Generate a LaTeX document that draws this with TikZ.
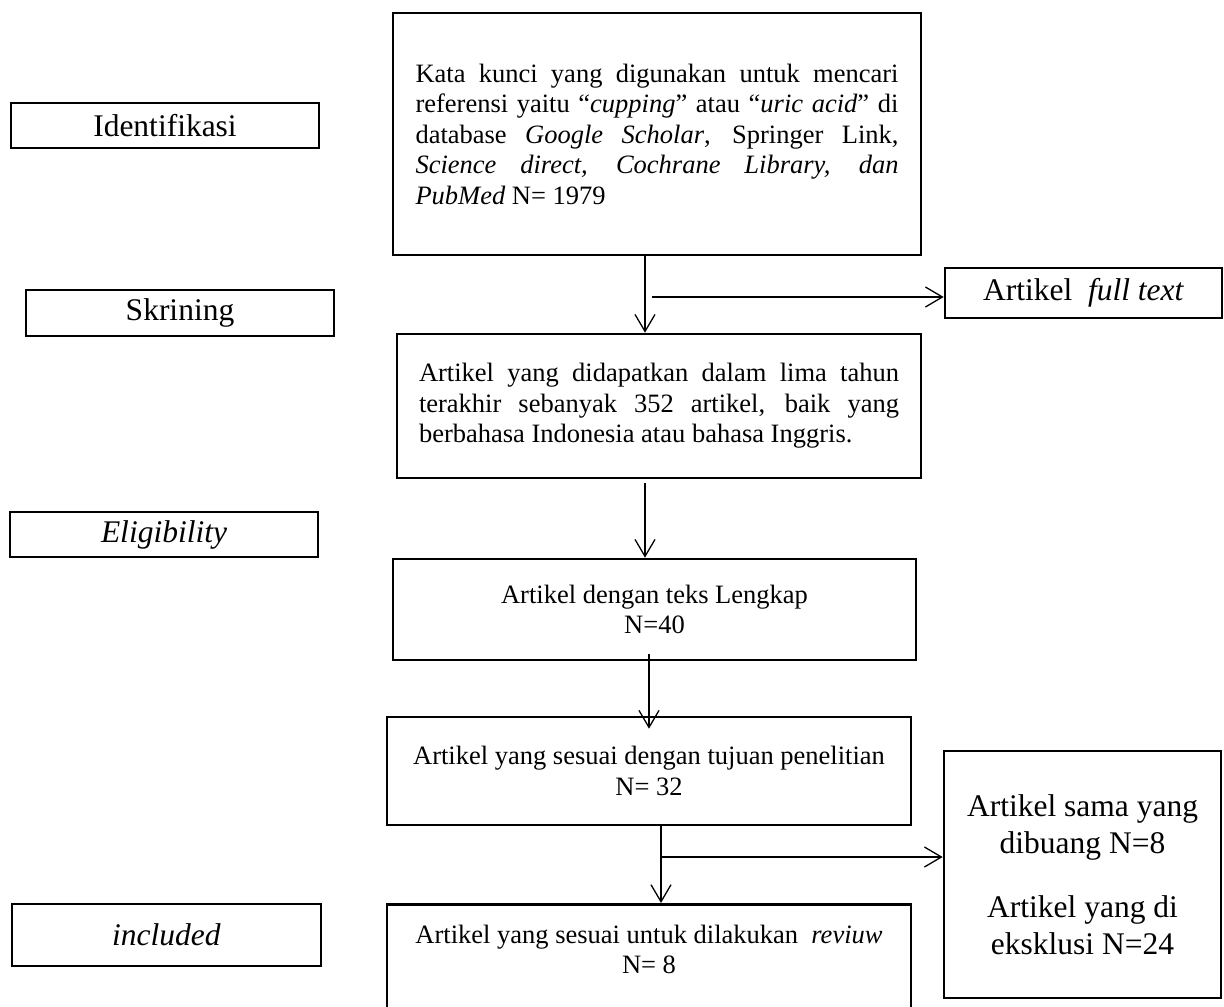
\documentclass[tikz,border=0pt]{standalone}
\usepackage{fontspec}
\setmainfont{Liberation Serif}
\usetikzlibrary{arrows.meta}

\newcommand{\bodysize}{\fontsize{26.5pt}{30.5pt}\selectfont}
\newcommand{\labelsize}{\fontsize{31.5pt}{37pt}\selectfont}

\begin{document}
\begin{tikzpicture}[
    x=1pt, y=-1pt,
    stagebox/.style={rectangle, draw, line width=2.6pt, minimum width=308pt, minimum height=45pt, inner sep=0pt, font=\labelsize},
    flowbox/.style={rectangle, draw, line width=2.6pt, minimum width=524pt, inner sep=0pt, font=\bodysize, align=center},
    sidebox/.style={rectangle, draw, line width=2.6pt, minimum width=277pt, inner sep=0pt, font=\labelsize, align=center},
    myarrow/.style={-{Straight Barb[length=17pt, width=20pt]}, line width=1.3pt},
]
\useasboundingbox (0,0) rectangle (1224,1007);
\clip (0,0) rectangle (1224,1007);

% tahapan
\node[stagebox] (ident) at (165,125.5) {Identifikasi};
\node[stagebox, minimum height=46pt] (skrin) at (180,313) {Skrining};
\node[stagebox] (elig) at (164,534.5) {\textit{Eligibility}};
\node[stagebox, minimum width=309pt, minimum height=62pt] (incl) at (166.5,935) {\textit{included}};

% alur artikel
\node[flowbox, minimum width=528pt, minimum height=242pt, text width=483pt, align=justify] (search) at (657,134) {Kata kunci yang digunakan untuk mencari\linebreak
referensi yaitu “\textit{cupping}” atau “\textit{uric acid}” di\linebreak
database \textit{Google Scholar}, Springer Link,\linebreak
\textit{Science direct, Cochrane Library, dan}\linebreak
\textit{PubMed} N= 1979};
\node[flowbox, minimum height=144pt, text width=480pt, align=justify] (screen) at (659,406) {Artikel yang didapatkan dalam lima tahun\linebreak
terakhir sebanyak 352 artikel, baik yang\linebreak
berbahasa Indonesia atau bahasa Inggris.};
\node[flowbox, minimum width=523pt, minimum height=101pt] (lengkap) at (654.5,609.5) {Artikel dengan teks Lengkap\\ N=40};
\node[flowbox, minimum height=108pt] (sesuai) at (649,771) {Artikel yang sesuai dengan tujuan penelitian\\ N= 32};
\node[flowbox, anchor=north] (review) at (649,903) {\parbox[c][120pt][t]{524pt}{\centering\vspace*{20.5pt}Artikel yang sesuai untuk dilakukan\hspace{0.5em}\textit{reviuw}\\ N= 8}};

% artikel dikeluarkan
\node[sidebox, minimum height=50pt] (fulltext) at (1083.5,293) {Artikel\hspace{0.5em}\textit{full text}};
\node[sidebox, minimum height=247pt] (exclude) at (1082.5,874.5) {Artikel sama yang\\ dibuang N=8\\[27pt] Artikel yang di\\ eksklusi N=24};

\coordinate (c1) at (645,0);
\coordinate (c3) at (649,0);
\coordinate (c4) at (661,0);
\coordinate (h1) at (652,297);
\coordinate (h2) at (661,857);

\draw[myarrow] (search.south -| c1) -- (screen.north -| c1);
\draw[myarrow] (h1) -- (h1 -| fulltext.west);
\draw[myarrow, shorten <=4pt] (screen.south -| c1) -- (lengkap.north -| c1);
\draw[myarrow, shorten <=-7pt, shorten >=-13pt] (lengkap.south -| c3) -- (sesuai.north -| c3);
\draw[myarrow] (sesuai.south -| c4) -- (review.north -| c4);
\draw[myarrow] (h2) -- (h2 -| exclude.west);
\end{tikzpicture}
\end{document}
